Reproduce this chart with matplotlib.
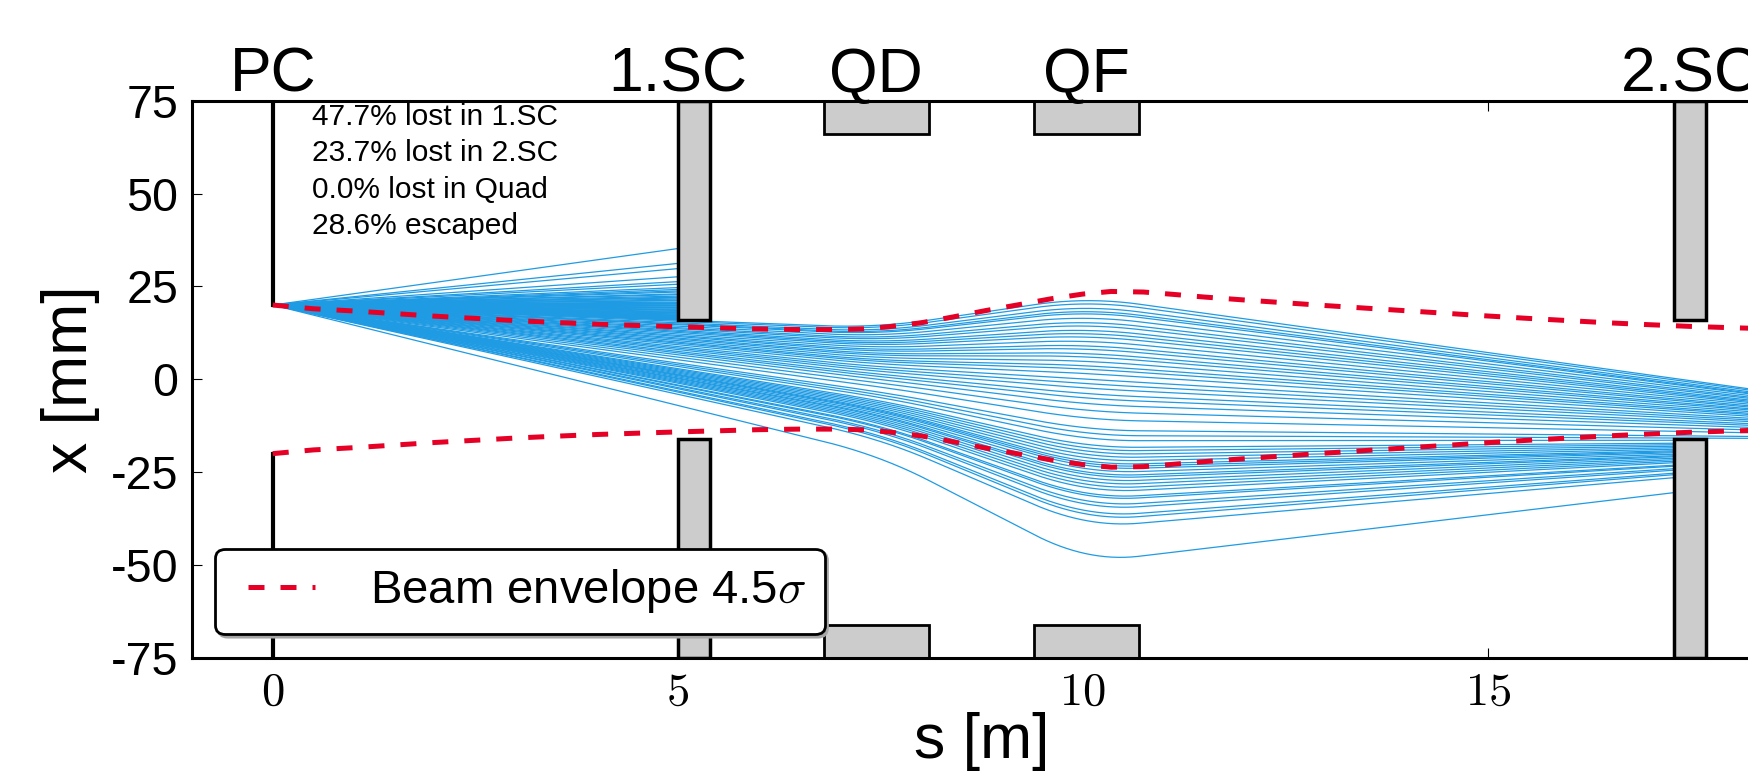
import numpy as np
import matplotlib
matplotlib.use('Agg')
import matplotlib.pyplot as plt
from matplotlib.patches import Rectangle

plt.rcParams['font.family'] = ['Liberation Sans', 'DejaVu Sans']
plt.rcParams['mathtext.fontset'] = 'cm'
plt.rcParams['axes.unicode_minus'] = False

# beamline layout [m] and apertures [mm]
pc_ap = 20.0
sc_len, sc_ap = 0.4, 16.0
sc1_s, sc2_s = 5.0, 17.3
q_len, q_ap = 1.3, 66.0
qd_s, qf_s = 6.8, 9.4
k_qd, k_qf = -0.21, 0.23   # quad strengths [1/m^2], negative = defocusing
s_end = 18.6

# ray positions at the 1.SC entrance [mm], every ray starts at x = 20 mm at the PC
x_sc1 = [35.2, 31.2, 29.8, 27.6, 26.3, 25.6, 24.7, 24.2, 23.8, 23.5, 23.0, 22.8,
         22.4, 22.1, 21.9, 21.6, 21.3, 21.15, 20.8, 20.6, 20.45, 20.2, 19.9, 19.75,
         19.5, 19.3, 19.15, 18.9, 18.7, 18.55, 18.3, 18.1, 17.95, 17.8, 17.6, 17.5,
         17.3, 17.15, 17.0, 16.9, 16.75, 16.6, 16.5, 16.4, 16.3, 16.2, 16.1, 16.05,
         15.9, 15.6, 15.2, 14.9, 14.7, 14.3, 13.9, 13.6, 13.2, 12.9, 12.6, 12.2,
         11.8, 11.5, 11.1, 10.8, 10.4, 10.0, 9.7, 9.3, 8.8, 8.4, 8.0, 7.5,
         7.1, 6.6, 6.0, 5.3, 4.4, 3.95,
         3.5, 2.9, 2.6, 2.3, 2.0, 1.7, 1.4, 1.2, 1.0, 0.7, 0.4, 0.2,
         -0.1, -0.4, -0.7, -1.0, -1.5, -1.7, -2.2, -2.5, -3.1, -3.4, -4.0, -7.0]

# 4.5 sigma beam envelope, half width [mm]
env_s = [0.0, 0.5, 1.0, 1.5, 2.0, 2.5, 3.0, 3.5, 4.0, 4.5, 5.0, 5.5, 6.0, 6.5,
         7.0, 7.3, 7.6, 8.0, 8.4, 8.8, 9.2, 9.6, 10.0, 10.35, 10.75, 11.1, 11.5,
         12.0, 12.5, 13.0, 13.5, 14.0, 14.5, 15.0, 15.5, 16.0, 16.5, 17.0, 17.5,
         18.0, 18.5]
env_x = [20.0, 19.0, 18.4, 17.7, 17.0, 16.4, 15.8, 15.3, 14.85, 14.5, 14.15,
         13.85, 13.55, 13.4, 13.4, 13.6, 14.15, 15.2, 16.8, 18.5, 20.05, 21.65,
         22.95, 23.65, 23.5, 22.9, 22.15, 21.35, 20.6, 19.85, 19.15, 18.45, 17.75,
         17.05, 16.4, 15.8, 15.2, 14.7, 14.25, 13.9, 13.6]

elements = ['PC', '1.SC', 'QD', 'QF', '2.SC']
element_s = [0.0, 5.0, 7.45, 10.05, 17.5]

losses = ['47.7% lost in 1.SC', '23.7% lost in 2.SC', '0.0% lost in Quad', '28.6% escaped']

ray_col = '#1f9be4'
env_col = '#e60026'
box_col = '#cccccc'


def strength(s):
    if qd_s <= s < qd_s + q_len:
        return k_qd
    if qf_s <= s < qf_s + q_len:
        return k_qf
    return 0.0


def matrix(k, ds):
    if k > 0:
        w = np.sqrt(k)
        return np.array([[np.cos(w*ds), np.sin(w*ds)/w], [-w*np.sin(w*ds), np.cos(w*ds)]])
    if k < 0:
        w = np.sqrt(-k)
        return np.array([[np.cosh(w*ds), np.sinh(w*ds)/w], [w*np.sinh(w*ds), np.cosh(w*ds)]])
    return np.array([[1.0, ds], [0.0, 1.0]])


def track(x5, ds=0.02):
    v = np.array([pc_ap, (x5 - pc_ap) / sc1_s])
    ss, xs = [0.0], [v[0]]
    n = int(round(s_end / ds))
    for i in range(n):
        s = i * ds
        v = matrix(strength(s + ds/2), ds) @ v
        s = (i + 1) * ds
        ss.append(s)
        xs.append(v[0])
        # stop on the collimator faces
        if abs(s - sc1_s) < 1e-9 and abs(v[0]) > sc_ap:
            break
        if abs(s - sc2_s) < 1e-9 and abs(v[0]) > sc_ap:
            break
    return ss, xs


fig = plt.figure(figsize=(17.48, 7.71), dpi=100)
ax = fig.add_axes([0.1097, 0.1466, 0.9036, 0.7228])

for x5 in x_sc1:
    ss, xs = track(x5)
    ax.plot(ss, xs, color=ray_col, lw=0.9, zorder=2)

# PC edges
ax.plot([0, 0], [pc_ap, 75], color='black', lw=3, zorder=2.4)
ax.plot([0, 0], [-75, -pc_ap], color='black', lw=3, zorder=2.4)

# scraper jaws and quadrupole poles
for s0 in [sc1_s, sc2_s]:
    ax.add_patch(Rectangle((s0, sc_ap), sc_len, 75 - sc_ap, fc=box_col, ec='black', lw=2.5, zorder=2.4))
    ax.add_patch(Rectangle((s0, -75), sc_len, 75 - sc_ap, fc=box_col, ec='black', lw=2.5, zorder=2.4))
for s0 in [qd_s, qf_s]:
    ax.add_patch(Rectangle((s0, q_ap), q_len, 75 - q_ap, fc=box_col, ec='black', lw=2, zorder=2.4))
    ax.add_patch(Rectangle((s0, -75), q_len, 75 - q_ap, fc=box_col, ec='black', lw=2, zorder=2.4))

env_s = np.array(env_s)
env_x = np.array(env_x)
ax.plot(env_s, env_x, color=env_col, lw=3.6, dashes=(3.2, 3.2), zorder=4,
        label=r'Beam envelope 4.5$\sigma$')
ax.plot(env_s, -env_x, color=env_col, lw=3.6, dashes=(3.2, 3.2), zorder=4)

for name, s0 in zip(elements, element_s):
    ax.text(s0, 1.016, name, transform=ax.get_xaxis_transform(), ha='center',
            va='baseline', fontsize=45)

ax.text(0.48, 74.4, '\n'.join(losses), fontsize=21.5, va='top', ha='left',
        linespacing=1.38, zorder=5)

ax.set_xlim(-1, 18.5)
ax.set_ylim(-75, 75)
ax.set_xticks([0, 5, 10, 15], labels=['$0$', '$5$', '$10$', '$15$'])
ax.set_yticks([75, 50, 25, 0, -25, -50, -75])
ax.tick_params(direction='in', length=7, width=0.8, top=True, right=True, labelsize=33.5)
ax.tick_params(axis='x', pad=9)
ax.tick_params(axis='y', pad=9.5)
for sp in ax.spines.values():
    sp.set_linewidth(2.2)

ax.set_xlabel('s [m]', fontsize=45, labelpad=-2)
ax.set_ylabel('x [mm]', fontsize=45, labelpad=8)

leg = ax.legend(loc='lower left', fontsize=34, numpoints=2, handletextpad=0.87,
                fancybox=True, framealpha=1, edgecolor='black',
                shadow={'color': '0.65', 'alpha': 1})
leg.get_frame().set_linewidth(2)
leg.set_zorder(6)

fig.savefig('out.png', dpi=100)
